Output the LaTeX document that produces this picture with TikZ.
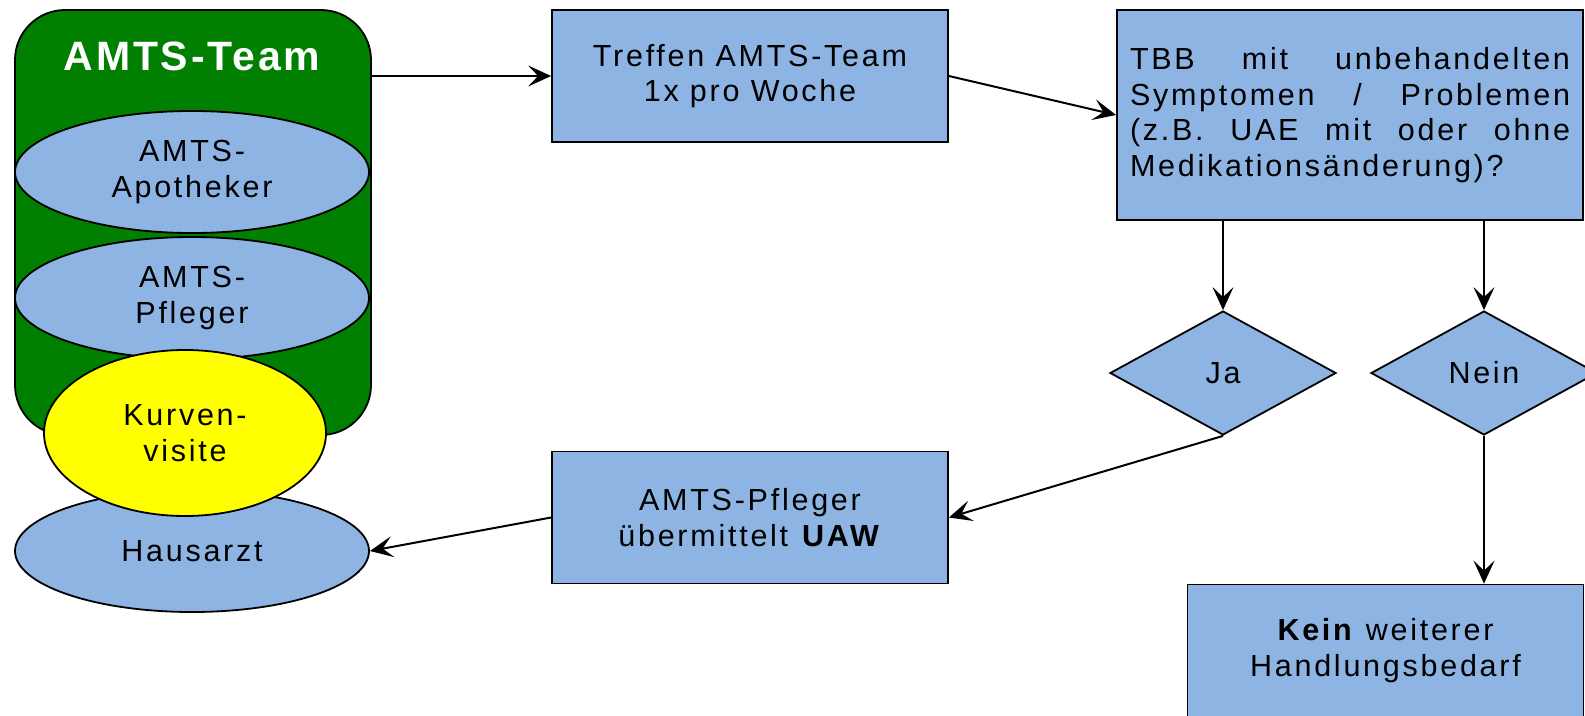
\documentclass[tikz,border=0pt]{standalone}
\usepackage{fontspec}
\setmainfont{Liberation Sans}[LetterSpace=9]
\usetikzlibrary{shapes.geometric,arrows.meta}

\definecolor{boxblue}{HTML}{8DB4E2}
\definecolor{teamgreen}{HTML}{007F00}
\definecolor{visityellow}{HTML}{FFFF00}

\tikzset{
  txt/.style={font=\fontsize{30.5}{35.5}\selectfont, text=black},
  outline/.style={draw=black, line width=1.8pt},
  procbox/.style={rectangle, outline, fill=boxblue, minimum width=396pt,
    minimum height=132pt, inner sep=0pt, align=center, txt},
  member/.style={ellipse, outline, fill=boxblue, minimum width=354pt,
    minimum height=122pt, inner sep=0pt, align=center, txt},
  decision/.style={diamond, outline, fill=boxblue, minimum width=226pt,
    minimum height=124pt, inner sep=0pt, txt},
  teambox/.style={rectangle, rounded corners=50pt, outline, fill=teamgreen,
    minimum width=356pt, minimum height=425pt, inner sep=0pt},
  flow/.style={-{Stealth[length=23pt,width=21pt,inset=10pt]}, line width=2pt}
}

\begin{document}
\begin{tikzpicture}[x=1pt,y=-1pt]
\useasboundingbox (0,0) rectangle (1585,715);
\clip (0,0) rectangle (1585,715);

% team column
\node[teambox] (team) at (193,222.5) {};
\node[text=white, font=\fontsize{41}{45}\selectfont\bfseries\addfontfeatures{LetterSpace=7}]
  (teamlabel) at (192,56) {AMTS-Team};
\node[member] (haus) at (192,551) {Hausarzt};
\node[member] (apo) at (192,172) {AMTS-\\Apotheker};
\node[member] (pfl) at (192,298) {AMTS-\\Pfleger};
\node[member, fill=visityellow, minimum width=282pt, minimum height=166pt]
  (kurve) at (185,433) {Kurven-\\visite};

% process boxes
\node[procbox] (treffen) at (750,76) {Treffen AMTS-Team\\1x pro Woche};
\node[procbox, minimum width=466pt, minimum height=210pt, text width=440pt, align=left]
  (tbb) at (1350,115)
  {\makebox[440pt][s]{TBB\hfill mit\hfill unbehandelten}\\
   \makebox[440pt][s]{Symptomen\hfill /\hfill Problemen}\\
   \makebox[440pt][s]{(z.B.\hfill UAE\hfill mit\hfill oder\hfill ohne}\\
   Medikationsänderung)?};
\node[decision] (ja) at (1223,373) {Ja};
\node[decision] (nein) at (1484,373) {Nein};
\node[procbox] (uaw) at (750,517.5) {AMTS-Pfleger\\übermittelt \textbf{UAW}};
\node[procbox] (kein) at (1385.5,650.5) {\textbf{Kein} weiterer\\Handlungsbedarf};

% connectors
\draw[flow] (treffen.west -| team.east) -- (treffen.west);
\draw[flow] (treffen.east) -- (tbb.west);
\draw[flow] (tbb.south -| ja.north) -- (ja.north);
\draw[flow] (tbb.south -| nein.north) -- (nein.north);
\draw[flow] (ja.south) -- (uaw.east);
\draw[flow] (uaw.west) -- (haus.east);
\draw[flow] (nein.south) -- (nein.south |- kein.north);
\end{tikzpicture}
\end{document}
